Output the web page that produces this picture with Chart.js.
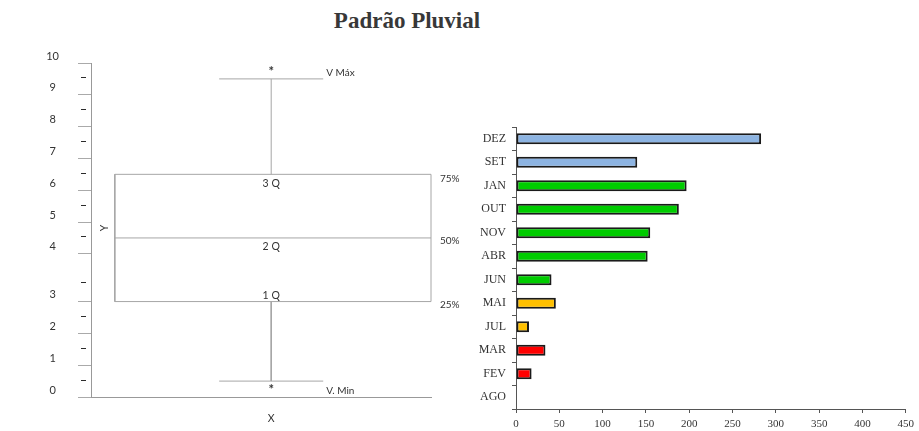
<!DOCTYPE html>
<html>
<head>
<meta charset="utf-8">
<script src="https://cdn.jsdelivr.net/npm/chart.js@4.4.1/dist/chart.umd.min.js"></script>
<style>
  html, body { margin: 0; padding: 0; background: #fff; }
  #page { position: relative; width: 919px; height: 431px; overflow: hidden; background: #fff; }
  #title {
    position: absolute; left: 0; top: 9px; width: 814px; text-align: center;
    font: bold 23px/23px "Liberation Serif", "Times New Roman", serif; color: #383838;
  }
  #boxWrap { position: absolute; left: 0; top: 0; width: 480px; height: 431px; }
  #barWrap { position: absolute; left: 465px; top: 0; width: 454px; height: 431px; }
</style>
</head>
<body>
<div id="page">
  <div id="title">Padrão Pluvial</div>
  <div id="boxWrap"><canvas id="boxChart" width="480" height="431"></canvas></div>
  <div id="barWrap"><canvas id="barChart" width="454" height="431"></canvas></div>
</div>
<script>
// ---- Box-plot scheme (diagram units) ----
const yTickLabels = ['0', '1', '2', '3', '4', '5', '6', '7', '8', '9', '10'];
const yTickAt = [0, 1, 2, 3, 4.5, 5.5, 6.5, 7.5, 8.5, 9.5, 10.5];
const yMinorAt = [0.55, 1.55, 2.55, 3.6, 5.05, 6.05, 7.05, 8.05, 9.05, 10.05];
const vMin = 0.5;
const q1 = 3;
const q2 = 5;
const q3 = 7;
const vMax = 10;

// ---- Monthly rainfall ranking ----
const months = ['DEZ', 'SET', 'JAN', 'OUT', 'NOV', 'ABR', 'JUN', 'MAI', 'JUL', 'MAR', 'FEV', 'AGO'];
const rainfall = [283, 140, 197, 188, 155, 152, 41, 46, 15, 34, 18, 0];
const monthClass = ['chuvoso', 'chuvoso', 'habitual', 'habitual', 'habitual', 'habitual', 'habitual',
                    'seco', 'seco', 'muito seco', 'muito seco', 'muito seco'];
const xTickStep = 50;
const xMax = 450;

// ---- styles ----
const classColor = {
  'chuvoso': '#8db4e2',
  'habitual': '#00cc00',
  'seco': '#ffc000',
  'muito seco': '#ff0000'
};
const schemeLine = '#a6a6a6';
const sansFont = 'Lato, "Open Sans", sans-serif';
const serifFont = '"Liberation Serif", "Times New Roman", serif';

// horizontal layout of the box scheme (x scale runs 0..10)
const boxLeft = 0.7, boxRight = 10, whiskerX = 5.3, capHalf = 1.53;

function seg(points) {
  return {
    data: points,
    showLine: true,
    borderColor: schemeLine,
    borderWidth: 1,
    pointRadius: 0,
    fill: false,
    clip: false
  };
}

const boxNotes = {
  id: 'boxNotes',
  afterDatasetsDraw(chart) {
    const { ctx, chartArea } = chart;
    const x = chart.scales.x, y = chart.scales.y;
    ctx.save();
    // short marks between numbered ticks
    ctx.strokeStyle = '#2b2b2b';
    ctx.lineWidth = 1;
    yMinorAt.forEach(v => {
      const py = Math.round(y.getPixelForValue(v)) + 0.5;
      ctx.beginPath();
      ctx.moveTo(chartArea.left - 10, py);
      ctx.lineTo(chartArea.left - 5, py);
      ctx.stroke();
    });

    ctx.fillStyle = '#333';
    ctx.textBaseline = 'middle';
    const put = (text, px, py, align) => { ctx.textAlign = align; ctx.fillText(text, px, py); };
    const wx = x.getPixelForValue(whiskerX);
    const capEnd = x.getPixelForValue(whiskerX + capHalf);
    const right = x.getPixelForValue(boxRight);
    const left = x.getPixelForValue(boxLeft);

    ctx.font = 'bold 13px ' + sansFont;
    put('*', wx, y.getPixelForValue(vMax) - 7, 'center');
    put('*', wx, y.getPixelForValue(vMin) + 9, 'center');

    ctx.font = '10.5px ' + sansFont;
    put('3 Q', wx, y.getPixelForValue(q3) + 9, 'center');
    put('2 Q', wx, y.getPixelForValue(q2) + 9, 'center');
    put('1 Q', wx, y.getPixelForValue(q1) - 6, 'center');
    ctx.font = '10px ' + sansFont;
    put('V Máx', capEnd + 3, y.getPixelForValue(vMax) - 6, 'left');
    put('V. Min', capEnd + 3, y.getPixelForValue(vMin) + 10, 'left');
    put('75%', right + 9, y.getPixelForValue(q3) + 4, 'left');
    put('50%', right + 9, y.getPixelForValue(q2) + 3, 'left');
    put('25%', right + 9, y.getPixelForValue(q1) + 3, 'left');
    ctx.font = '10.5px ' + sansFont;
    put('X', wx, chartArea.bottom + 22, 'center');

    ctx.save();
    ctx.translate(left - 10, y.getPixelForValue(q2) - 10);
    ctx.rotate(-Math.PI / 2);
    put('Y', 0, 0, 'center');
    ctx.restore();

    ctx.restore();
  }
};

new Chart(document.getElementById('boxChart'), {
  type: 'scatter',
  data: {
    datasets: [
      seg([{ x: boxLeft, y: q1 }, { x: boxRight, y: q1 }, { x: boxRight, y: q3 }, { x: boxLeft, y: q3 }, { x: boxLeft, y: q1 }]),
      seg([{ x: boxLeft, y: q2 }, { x: boxRight, y: q2 }]),
      seg([{ x: whiskerX, y: q3 }, { x: whiskerX, y: vMax }]),
      seg([{ x: whiskerX - capHalf, y: vMax }, { x: whiskerX + capHalf, y: vMax }]),
      seg([{ x: whiskerX, y: q1 }, { x: whiskerX, y: vMin }]),
      seg([{ x: whiskerX - capHalf, y: vMin }, { x: whiskerX + capHalf, y: vMin }])
    ]
  },
  options: {
    responsive: false,
    animation: false,
    events: [],
    layout: { padding: { top: 63, right: 49, bottom: 0, left: 0 } },
    plugins: { legend: { display: false }, tooltip: { enabled: false } },
    scales: {
      x: {
        type: 'linear', min: 0, max: 10,
        ticks: { display: false },
        grid: { display: false },
        border: { display: true, color: '#999', width: 1 },
        afterFit: s => { s.height = 34; }
      },
      y: {
        type: 'linear', min: 0, max: 10.5,
        afterBuildTicks: s => { s.ticks = yTickAt.map(v => ({ value: v })); },
        ticks: {
          autoSkip: false,
          callback: (v, i) => yTickLabels[i],
          font: { family: sansFont, size: 11 },
          color: '#333',
          crossAlign: 'center',
          padding: 19,
          labelOffset: -7
        },
        grid: { drawOnChartArea: false, drawTicks: true, tickLength: 13, color: '#aaa' },
        border: { display: true, color: '#999', width: 1 },
        afterFit: s => { s.width = 91; }
      }
    }
  },
  plugins: [boxNotes]
});

new Chart(document.getElementById('barChart'), {
  type: 'bar',
  data: {
    labels: months,
    datasets: [{
      data: rainfall,
      backgroundColor: monthClass.map(c => classColor[c]),
      borderColor: '#1a1a1a',
      borderWidth: 2,
      borderSkipped: false,
      barPercentage: 0.46,
      categoryPercentage: 1
    }]
  },
  options: {
    indexAxis: 'y',
    responsive: false,
    animation: false,
    events: [],
    layout: { padding: { top: 127, right: 12, bottom: 0, left: 0 } },
    plugins: { legend: { display: false }, tooltip: { enabled: false } },
    scales: {
      x: {
        min: 0, max: xMax,
        ticks: { stepSize: xTickStep, font: { family: serifFont, size: 11 }, color: '#333', padding: 5 },
        grid: { drawOnChartArea: false, drawTicks: true, tickLength: 4, color: '#555' },
        border: { display: true, color: '#555', width: 1 },
        afterFit: s => { s.height = 22; }
      },
      y: {
        ticks: { autoSkip: false, font: { family: serifFont, size: 12 }, color: '#333', padding: 6 },
        grid: { drawOnChartArea: false, drawTicks: true, tickLength: 4, color: '#555', offset: true },
        border: { display: true, color: '#555', width: 1 },
        afterFit: s => { s.width = 51; }
      }
    }
  }
});
</script>
</body>
</html>
